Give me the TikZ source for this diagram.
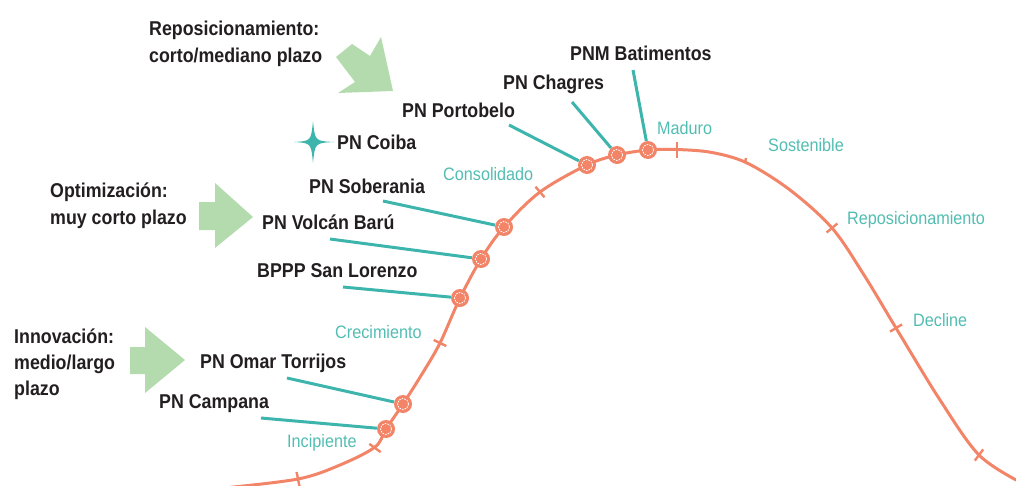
\documentclass[tikz,border=0pt]{standalone}
\usepackage{fontspec}
\setmainfont{Liberation Sans}
\newfontfamily\blkfont{Liberation Sans}[FakeStretch=0.89]
\newfontfamily\tealfont{Liberation Sans}[FakeStretch=0.9]
\definecolor{ink}{HTML}{231F20}
\definecolor{curvec}{HTML}{F28468}
\definecolor{tealline}{HTML}{3DB5AD}
\definecolor{tealtxt}{HTML}{52BDB2}
\definecolor{greenarr}{HTML}{B3DBAE}
\tikzset{
  blk/.style={font=\blkfont\bfseries\fontsize{20}{24}\selectfont, text=ink, inner sep=0pt, anchor=base west},
  stage/.style={font=\tealfont\fontsize{18}{22}\selectfont, text=tealtxt, inner sep=0pt, anchor=base west},
  dot/.style={circle, fill=curvec, minimum size=18pt, inner sep=0pt,
    path picture={\draw[white, line width=0.8pt, dash pattern=on 1.6pt off 1.1pt] (path picture bounding box.center) circle (5.6);}},
  leader/.style={draw=tealline, line width=3pt},
  curveline/.style={draw=curvec, line width=3pt},
  tickline/.style={draw=curvec, line width=2.4pt},
  greenshape/.style={fill=greenarr},
}
\begin{document}
\begin{tikzpicture}[x=1pt,y=-1pt]
\useasboundingbox (0,0) rectangle (1016,485);
% curve
\draw[curveline] plot[smooth, tension=0.55] coordinates {(224,488) (298,479) (340,465) (375,447) (386,429) (403,404) (422,374) (440,343) (460,298) (481,259) (504,227) (540,192) (587,165) (617,155) (648,150) (677,149.5) (712,152.5) (747,163) (790,190) (832,228) (864,275) (896,328) (940,400) (979,455) (1020,482)};
% ticks
\draw[tickline] (296.6,472) -- (299.4,486);
\draw[tickline] (369.3,443.9) -- (380.7,452.1);
\draw[tickline] (433.7,340) -- (446.3,346);
\draw[tickline] (535.5,186.7) -- (544.5,197.3);
\draw[tickline] (677,142) -- (677,158);
\draw[tickline] (746,158) -- (745,163);
\draw[tickline] (826.6,232.5) -- (837.4,223.5);
\draw[tickline] (890,331.6) -- (902,324.4);
\draw[tickline] (974.8,460.6) -- (983.2,449.4);
% green arrows
\fill[greenshape] (381,37) -- (393,91) -- (338,93) -- (355,82) -- (336,57) -- (352,44) -- (370,56) -- cycle;
\fill[greenshape] (199,202) -- (215,202) -- (215,183) -- (253,217) -- (215,248) -- (215,230) -- (199,230) -- cycle;
\fill[greenshape] (130,347) -- (145,347) -- (145,327) -- (185,360) -- (145,393) -- (145,374) -- (130,374) -- cycle;
% star
\fill[tealline] (294,142) .. controls (311,141) .. (313,121) .. controls (315,141) .. (334,142) .. controls (315,143) .. (313,163) .. controls (311,143) .. (294,142) -- cycle;
% stage labels
\node[stage] (sInc) at (287,447) {Incipiente};
\node[stage] (sCre) at (335,338) {Crecimiento};
\node[stage] (sCon) at (443,180) {Consolidado};
\node[stage] (sMad) at (657,134) {Maduro};
\node[stage] (sSos) at (768,151) {Sostenible};
\node[stage] (sRep) at (847,224) {Reposicionamiento};
\node[stage] (sDec) at (913,326) {Decline};
% strategy labels
\node[blk] (rep1) at (149,35) {Reposicionamiento:};
\node[blk] (rep2) at (149,62) {corto/mediano plazo};
\node[blk] (opt1) at (50,197) {Optimización:};
\node[blk] (opt2) at (50,224) {muy corto plazo};
\node[blk] (inn1) at (14,343) {Innovación:};
\node[blk] (inn2) at (14,369) {medio/largo};
\node[blk] (inn3) at (14,395) {plazo};
% park labels
\node[blk] (lCoiba) at (337,149) {PN Coiba};
\node[blk] (lSob) at (309,193) {PN Soberania};
\node[blk] (lVol) at (262,229) {PN Volcán Barú};
\node[blk] (lSan) at (257,277) {BPPP San Lorenzo};
\node[blk] (lOmar) at (200,368) {PN Omar Torrijos};
\node[blk] (lCam) at (159,408) {PN Campana};
\node[blk] (lPor) at (402,117) {PN Portobelo};
\node[blk] (lCha) at (503,89) {PN Chagres};
\node[blk] (lBat) at (570,60) {PNM Batimentos};
% leader starts
\coordinate (cPor) at (509,125);
\coordinate (cCha) at (572,102);
\coordinate (cBat) at (633,70);
\coordinate (cSob) at (383,201);
\coordinate (cVol) at (330,239);
\coordinate (cSan) at (343,287);
\coordinate (cOmar) at (287,378);
\coordinate (cCam) at (261,418);
% dots
\node[dot] (dCam) at (386,429) {};
\node[dot] (dOmar) at (403,404) {};
\node[dot] (dSan) at (460,298) {};
\node[dot] (dVol) at (481,259) {};
\node[dot] (dSob) at (504,227) {};
\node[dot] (dPor) at (587,165) {};
\node[dot] (dCha) at (617,155) {};
\node[dot] (dBat) at (648,150) {};
% leaders
\draw[leader] (cPor) -- (dPor);
\draw[leader] (cCha) -- (dCha);
\draw[leader] (cBat) -- (dBat);
\draw[leader] (cSob) -- (dSob);
\draw[leader] (cVol) -- (dVol);
\draw[leader] (cSan) -- (dSan);
\draw[leader] (cOmar) -- (dOmar);
\draw[leader] (cCam) -- (dCam);
\end{tikzpicture}
\end{document}
